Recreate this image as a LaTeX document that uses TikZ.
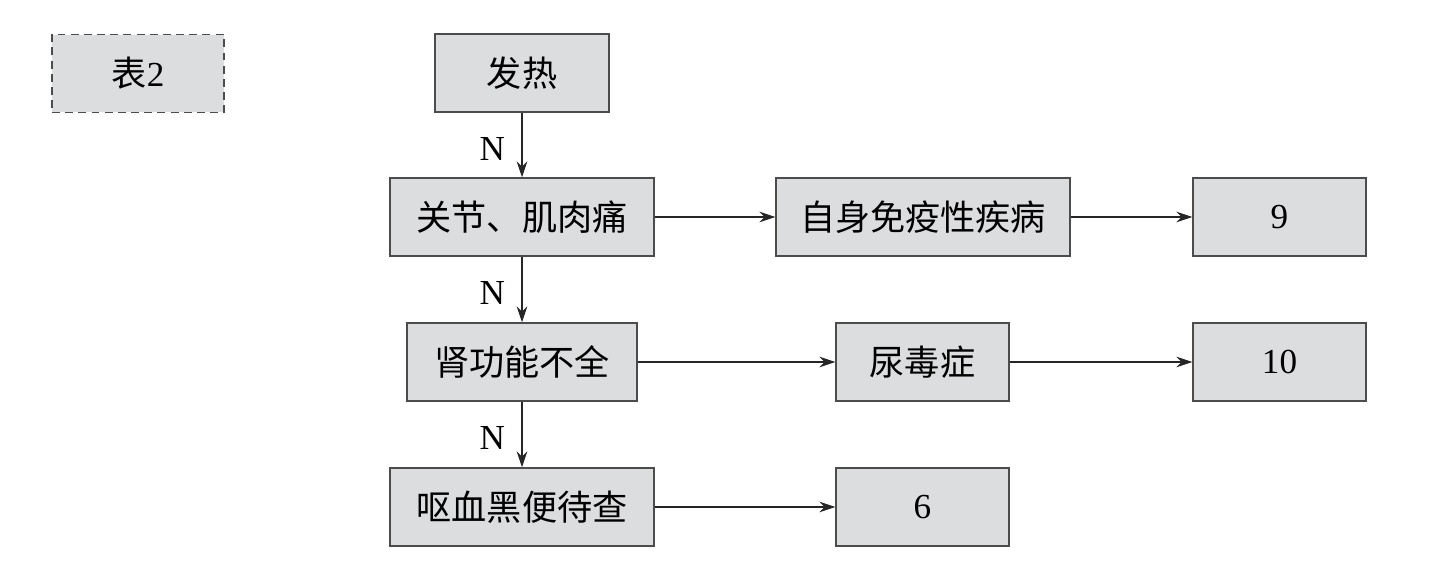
\documentclass[tikz,border=0pt]{standalone}
\usepackage{fontspec}
\setmainfont{Liberation Serif}
\newfontfamily\cjk{Noto Sans CJK SC}
\usetikzlibrary{arrows.meta}

\tikzset{
  box/.style={draw=black!70, fill=boxgray, line width=0.85pt, inner sep=0pt,
    minimum height=1.56cm, font=\fontsize{20}{24}\selectfont},
  link/.style={draw=black!85, line width=0.65pt, -{Stealth[length=9pt,width=6pt]}},
  nlabel/.style={font=\fontsize{20}{24}\selectfont, left=6pt, yshift=-2pt}
}
\definecolor{boxgray}{HTML}{DCDDDF}

\begin{document}
\begin{tikzpicture}[x=0.02cm, y=-0.02cm]
            \useasboundingbox (0, 0) rectangle (1437, 567);
            \node[box, dashed, dash pattern=on 4.5pt off 3pt, minimum width=3.44cm] (tab) at (138, 73.5) {{\cjk 表}2};
            \node[box, minimum width=3.48cm] (fever) at (522, 73) {\cjk 发热};
            \node[box, minimum width=5.28cm] (pain) at (522, 217) {\cjk 关节、肌肉痛};
            \node[box, minimum width=5.88cm] (auto) at (923, 217) {\cjk 自身免疫性疾病};
            \node[box, minimum width=3.46cm] (nine) at (1279.5, 217) {9};
            \node[box, minimum width=4.60cm] (renal) at (522, 362) {\cjk 肾功能不全};
            \node[box, minimum width=3.46cm] (uremia) at (922.5, 362) {\cjk 尿毒症};
            \node[box, minimum width=3.46cm] (ten) at (1279.5, 362) {10};
            \node[box, minimum width=5.28cm] (blood) at (522, 507) {\cjk 呕血黑便待查};
            \node[box, minimum width=3.46cm] (six) at (922.5, 507) {6};
            % vertical chain
            \draw[link] (fever) -- node[nlabel] {N} (pain);
            \draw[link] (pain) -- node[nlabel] {N} (renal);
            \draw[link] (renal) -- node[nlabel] {N} (blood);
            % to the right
            \draw[link] (pain) -- (auto);
            \draw[link] (auto) -- (nine);
            \draw[link] (renal) -- (uremia);
            \draw[link] (uremia) -- (ten);
            \draw[link] (blood) -- (six);
        \end{tikzpicture}
\end{document}
